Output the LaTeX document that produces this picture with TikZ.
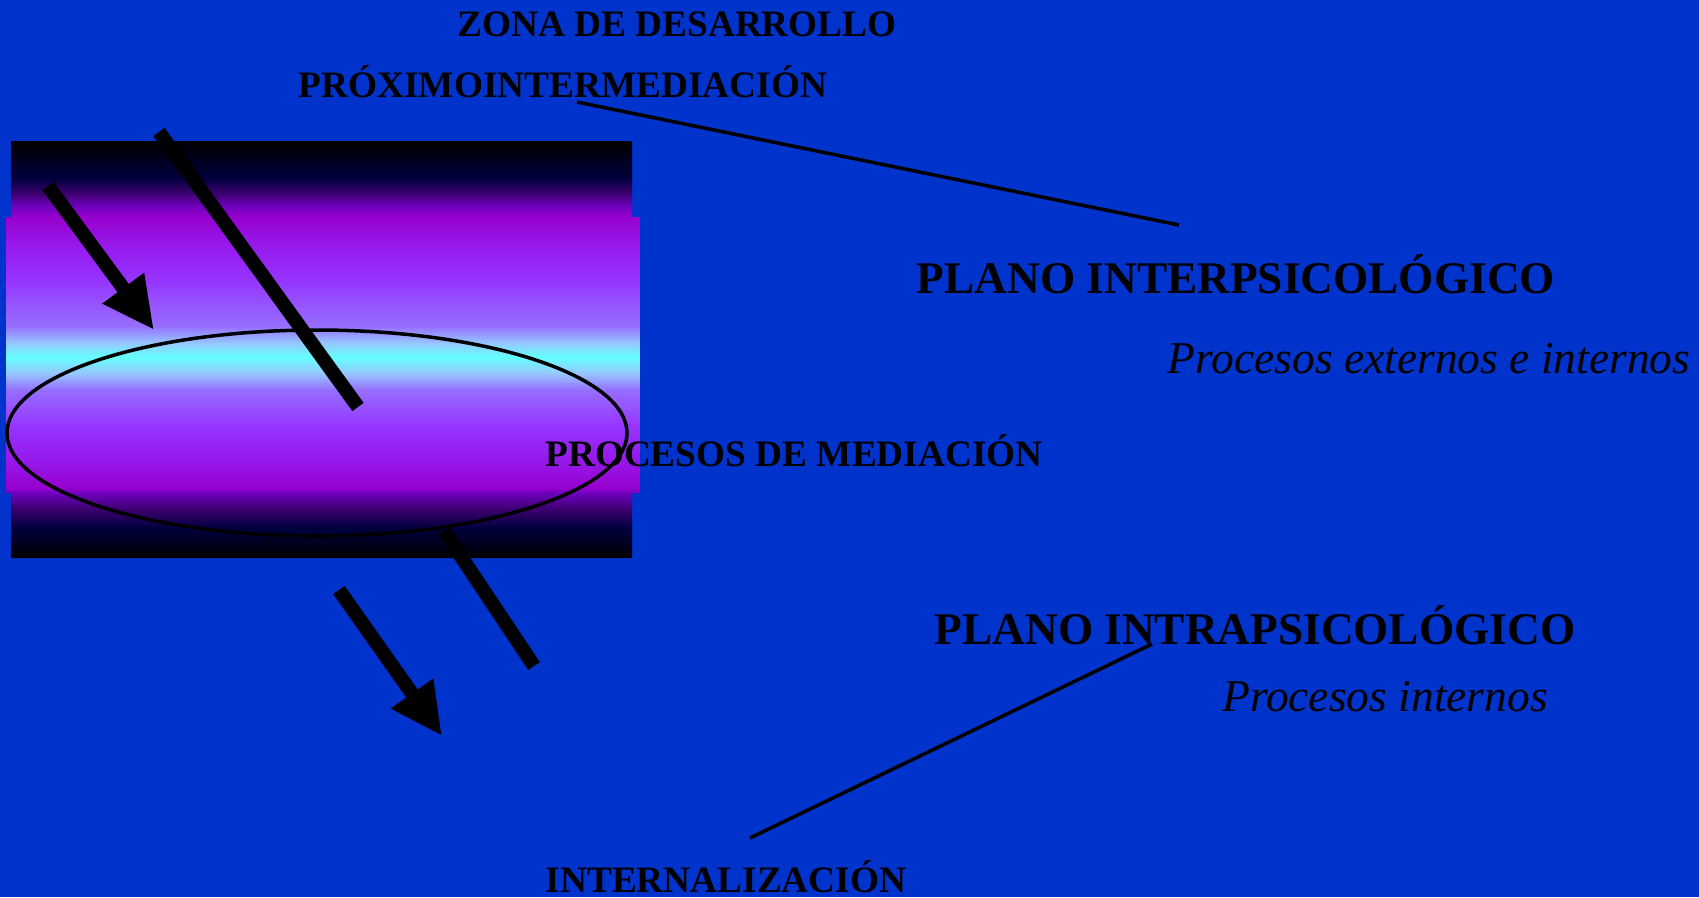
\documentclass[tikz,border=0pt]{standalone}
\usepackage{fontspec}
\setmainfont{Liberation Serif}
\usetikzlibrary{arrows.meta}
\definecolor{bgblue}{RGB}{0,51,204}
\definecolor{gA}{RGB}{0,0,0}
\definecolor{gB}{RGB}{0,0,60}
\definecolor{gC}{RGB}{60,0,110}
\definecolor{gD}{RGB}{110,0,190}
\definecolor{gE}{RGB}{150,0,204}
\definecolor{gF}{RGB}{150,20,230}
\definecolor{gG}{RGB}{150,50,255}
\definecolor{gH}{RGB}{150,110,255}
\definecolor{gI}{RGB}{150,200,255}
\definecolor{gJ}{RGB}{100,255,255}
\pgfdeclareverticalshading{bands}{100bp}{color(0bp)=(gA); color(25bp)=(gA); color(28.6bp)=(gB); color(30.88bp)=(gC); color(32.79bp)=(gD); color(33.39bp)=(gE); color(36.03bp)=(gF); color(40.59bp)=(gG); color(45.14bp)=(gH); color(47.18bp)=(gI); color(49.1bp)=(gJ); color(50.78bp)=(gI); color(52.82bp)=(gH); color(58.57bp)=(gG); color(63.37bp)=(gF); color(65.89bp)=(gE); color(67.21bp)=(gD); color(68.77bp)=(gC); color(70.56bp)=(gB); color(75bp)=(gA); color(100bp)=(gA)}
\tikzset{
  lbl/.style={inner sep=0pt, anchor=base, text=black, font=\fontsize{37.3}{40}\selectfont\bfseries},
  biglbl/.style={inner sep=0pt, anchor=base, text=black, font=\fontsize{45.3}{50}\selectfont\bfseries},
  itlbl/.style={inner sep=0pt, anchor=base, text=black, font=\fontsize{45.5}{50}\selectfont\itshape},
  thinline/.style={draw=black, line width=3.5pt},
  thickbar/.style={draw=black, line width=14pt},
  thickarrow/.style={draw=black, line width=14pt, -{Triangle[length=52pt,width=48pt]}}
}
\begin{document}
\begin{tikzpicture}[x=1pt,y=-1pt]
\useasboundingbox (0,0) rectangle (1699,897);
\fill[bgblue] (0,0) rectangle (1699,897);
% gradient block
\begin{scope}
  \clip (11,141) rectangle (632,558) (6,217) rectangle (640,493);
  \shade[shading=bands] (6,141) rectangle (640,558);
\end{scope}
% ellipse
\draw[black, line width=3.5pt] (317,433) ellipse [x radius=310, y radius=103];
% coordinates
\coordinate (a1s) at (48,186);
\coordinate (a1e) at (154,330);
\coordinate (b2s) at (159,132);
\coordinate (b2e) at (358,407);
\coordinate (b3s) at (444,531);
\coordinate (b3e) at (534,666);
\coordinate (a4s) at (339,590);
\coordinate (a4e) at (442,736);
\draw[thickarrow] (a1s) -- (a1e);
\draw[thickbar] (b2s) -- (b2e);
\draw[thickbar] (b3s) -- (b3e);
\draw[thickarrow] (a4s) -- (a4e);
% texts
\node[lbl] (zona) at (677,36) {ZONA DE DESARROLLO};
\node[lbl] (prox) at (563,97) {PRÓXIMOINTERMEDIACIÓN};
\node[biglbl] (inter) at (1236,293) {PLANO INTERPSICOLÓGICO};
\node[itlbl] (pext) at (1429,373) {Procesos externos e internos};
\node[lbl] (med) at (794,466) {PROCESOS DE MEDIACIÓN};
\node[biglbl] (intra) at (1255,644) {PLANO INTRAPSICOLÓGICO};
\node[itlbl] (pint) at (1385,711) {Procesos internos};
\node[lbl] (internal) at (726,892) {INTERNALIZACIÓN};
% thin connectors
\coordinate (c1s) at (577,102);
\coordinate (c1e) at (1179,225);
\coordinate (c2s) at (1152,644);
\coordinate (c2e) at (750,838);
\draw[thinline] (c1s) -- (c1e);
\draw[thinline] (c2s) -- (c2e);
\end{tikzpicture}
\end{document}
